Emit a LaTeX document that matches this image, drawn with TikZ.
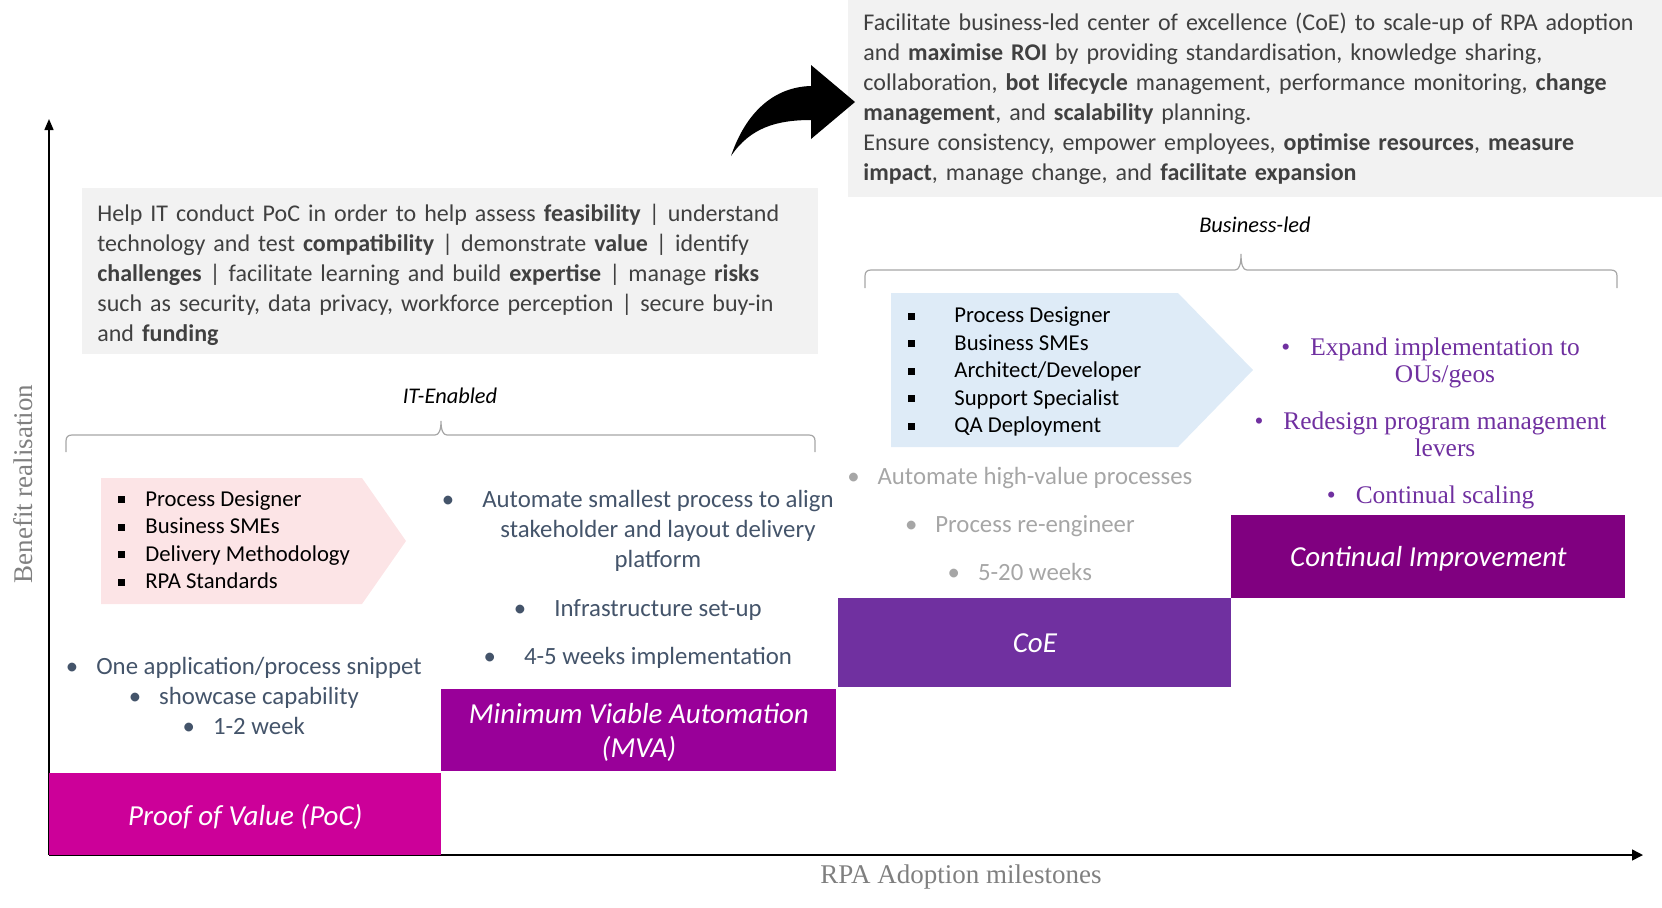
\documentclass[tikz,border=0pt]{standalone}
\usepackage{fontspec}
\setmainfont{Carlito}
\newfontfamily\serifface{Liberation Serif}
\usepackage{xcolor}
\usetikzlibrary{arrows.meta, positioning}

\definecolor{pocmag}{HTML}{CC0099}
\definecolor{mvapurple}{HTML}{990099}
\definecolor{coeviolet}{HTML}{7030A0}
\definecolor{cipurple}{HTML}{800080}
\definecolor{notegray}{HTML}{F2F2F2}
\definecolor{bodygray}{HTML}{404040}
\definecolor{chevpink}{HTML}{FCE4E6}
\definecolor{chevblue}{HTML}{DEEBF7}
\definecolor{slate}{HTML}{44546A}
\definecolor{lightgray}{HTML}{A6A6A6}
\definecolor{axisgray}{HTML}{7F7F7F}

\newcommand{\sqitem}[2]{\makebox[#1][l]{\rule[0.15em]{0.3em}{0.3em}}#2}
\newcommand{\hb}[2]{\llap{\textbullet\hspace{#1}}#2}

\begin{document}
\begin{tikzpicture}[x=0.5pt, y=-0.5pt,
    stage/.style={anchor=north west, inner sep=0pt, text=white, align=center, text depth=0pt,
        font=\fontsize{14.5}{17}\selectfont\itshape},
    note/.style={anchor=north west, fill=notegray, text=bodygray, inner xsep=7.5pt,
        align=left, font=\fontsize{12}{15}\selectfont},
    roles/.style={anchor=west, inner sep=0pt, align=left, font=\fontsize{11.35}{13.75}\selectfont},
    points/.style={inner sep=0pt, align=center, font=\fontsize{12.4}{15}\selectfont},
    tag/.style={inner sep=0pt, font=\fontsize{11.2}{13}\selectfont\itshape},
    axislabel/.style={inner sep=0pt, text=axisgray, font=\fontsize{13.5}{16}\selectfont\serifface},
    bracket/.style={draw=lightgray, line width=0.6pt}]
    \useasboundingbox (0,0) rectangle (1662,907);

    % Axes
    \coordinate (origin) at (49,855);
    \coordinate (xend) at (1643,855);
    \coordinate (yend) at (49,119);
    \draw[line width=0.75pt, -{Triangle[length=5.5pt, width=5.5pt]}] (origin) -- (xend);
    \draw[line width=0.75pt, -{Triangle[length=5.5pt, width=4.5pt]}] (origin) -- (yend);
    \node[axislabel] (xlabel) at (961,877) {RPA Adoption milestones};
    \node[axislabel, rotate=90] (ylabel) at (23,484) {Benefit realisation};

    % Stages
    \node[stage, fill=pocmag, minimum width=196pt, minimum height=41pt] (poc) at (49,773) {Proof of Value (PoC)};
    \node[stage, fill=mvapurple, minimum width=197.5pt, minimum height=41pt] (mva) at (441,689) {Minimum Viable Automation\\(MVA)};
    \node[stage, fill=coeviolet, minimum width=196.5pt, minimum height=44.5pt] (coe) at (838,598) {CoE};
    \node[stage, fill=cipurple, minimum width=197pt, minimum height=41.5pt] (ci) at (1231,515) {Continual Improvement};

    % Notes
    \node[note, text width=353pt, minimum height=83pt] (pocnote) at (82,188) {\rule{0pt}{2.1ex}Help IT conduct PoC in order to help assess \textbf{feasibility} | understand\\
        technology and test \textbf{compatibility} | demonstrate \textbf{value} | identify\\
        \textbf{challenges} | facilitate learning and build \textbf{expertise} | manage \textbf{risks}\\
        such as security, data privacy, workforce perception | secure buy-in\\
        and \textbf{funding}};
    \node[note, text width=392pt, minimum height=98.5pt] (coenote) at (848,0) {Facilitate business-led center of excellence (CoE) to scale-up of RPA adoption\\
        and \textbf{maximise ROI} by providing standardisation, knowledge sharing,\\
        collaboration, \textbf{bot lifecycle} management, performance monitoring, \textbf{change}\\
        \textbf{management}, and \textbf{scalability} planning.\\
        Ensure consistency, empower employees, \textbf{optimise resources}, \textbf{measure}\\
        \textbf{impact}, manage change, and \textbf{facilitate expansion}};

    % Jump arrow
    \fill (731,156) .. controls (746,112) and (774,87) .. (811,86) -- (811,65) -- (855,102)
        -- (811,139) -- (811,120) .. controls (776,120) and (750,128) .. (731,156) -- cycle;

    % Brackets
    \node[tag] (itled) at (450,396) {IT-Enabled};
    \draw[bracket] (66,452) -- (66,441) .. controls (66,437) and (68,435) .. (72,435) -- (435,435)
        .. controls (439,435) and (441,430) .. (441,421) .. controls (441,430) and (443,435) .. (447,435)
        -- (809,435) .. controls (813,435) and (815,437) .. (815,441) -- (815,452);
    \node[tag] (bizled) at (1255,225) {Business-led};
    \draw[bracket] (865,288) -- (865,276) .. controls (865,272) and (867,270) .. (871,270) -- (1235,270)
        .. controls (1239,270) and (1241,265) .. (1241,254) .. controls (1241,265) and (1243,270) .. (1247,270)
        -- (1611,270) .. controls (1615,270) and (1617,272) .. (1617,276) -- (1617,288);

    % Role chevrons
    \fill[chevpink] (101,478) -- (362,478) -- (406,541) -- (362,604) -- (101,604) -- cycle;
    \node[roles] (pocroles) at (118,540) {\sqitem{13.5pt}{Process Designer}\\
        \sqitem{13.5pt}{Business SMEs}\\
        \sqitem{13.5pt}{Delivery Methodology}\\
        \sqitem{13.5pt}{RPA Standards}};
    \fill[chevblue] (891,293) -- (1178,293) -- (1253,370) -- (1178,447) -- (891,447) -- cycle;
    \node[roles] (coeroles) at (908,372) {\sqitem{23pt}{Process Designer}\\
        \sqitem{23pt}{Business SMEs}\\
        \sqitem{23pt}{Architect/Developer}\\
        \sqitem{23pt}{Support Specialist}\\
        \sqitem{23pt}{QA Deployment}};

    % Stage points
    \node[points, text=slate] (pocpoints) at (259,696) {\hb{9pt}{One application/process snippet}\\
        \hb{9pt}{showcase capability}\\
        \hb{9pt}{1-2 week}};
    \node[points, text=slate] (mvapoints) at (658,579) {\hb{14pt}{Automate smallest process to align}\\
        stakeholder and layout delivery\\
        platform\\[9.5pt]
        \hb{14pt}{Infrastructure set-up}\\[9pt]
        \hb{14pt}{4-5 weeks implementation}};
    \node[points, text=lightgray] (coepoints) at (1035,524) {\hb{9pt}{Automate high-value processes}\\[9pt]
        \hb{9pt}{Process re-engineer}\\[9pt]
        \hb{9pt}{5-20 weeks}};
    \node[points, text=coeviolet, font=\fontsize{12.7}{13.75}\selectfont\serifface] (cipoints) at (1445,423) {\hb{10pt}{Expand implementation to}\\
        OUs/geos\\[9.5pt]
        \hb{10pt}{Redesign program management}\\
        levers\\[9.5pt]
        \hb{10pt}{Continual scaling}};
\end{tikzpicture}
\end{document}
